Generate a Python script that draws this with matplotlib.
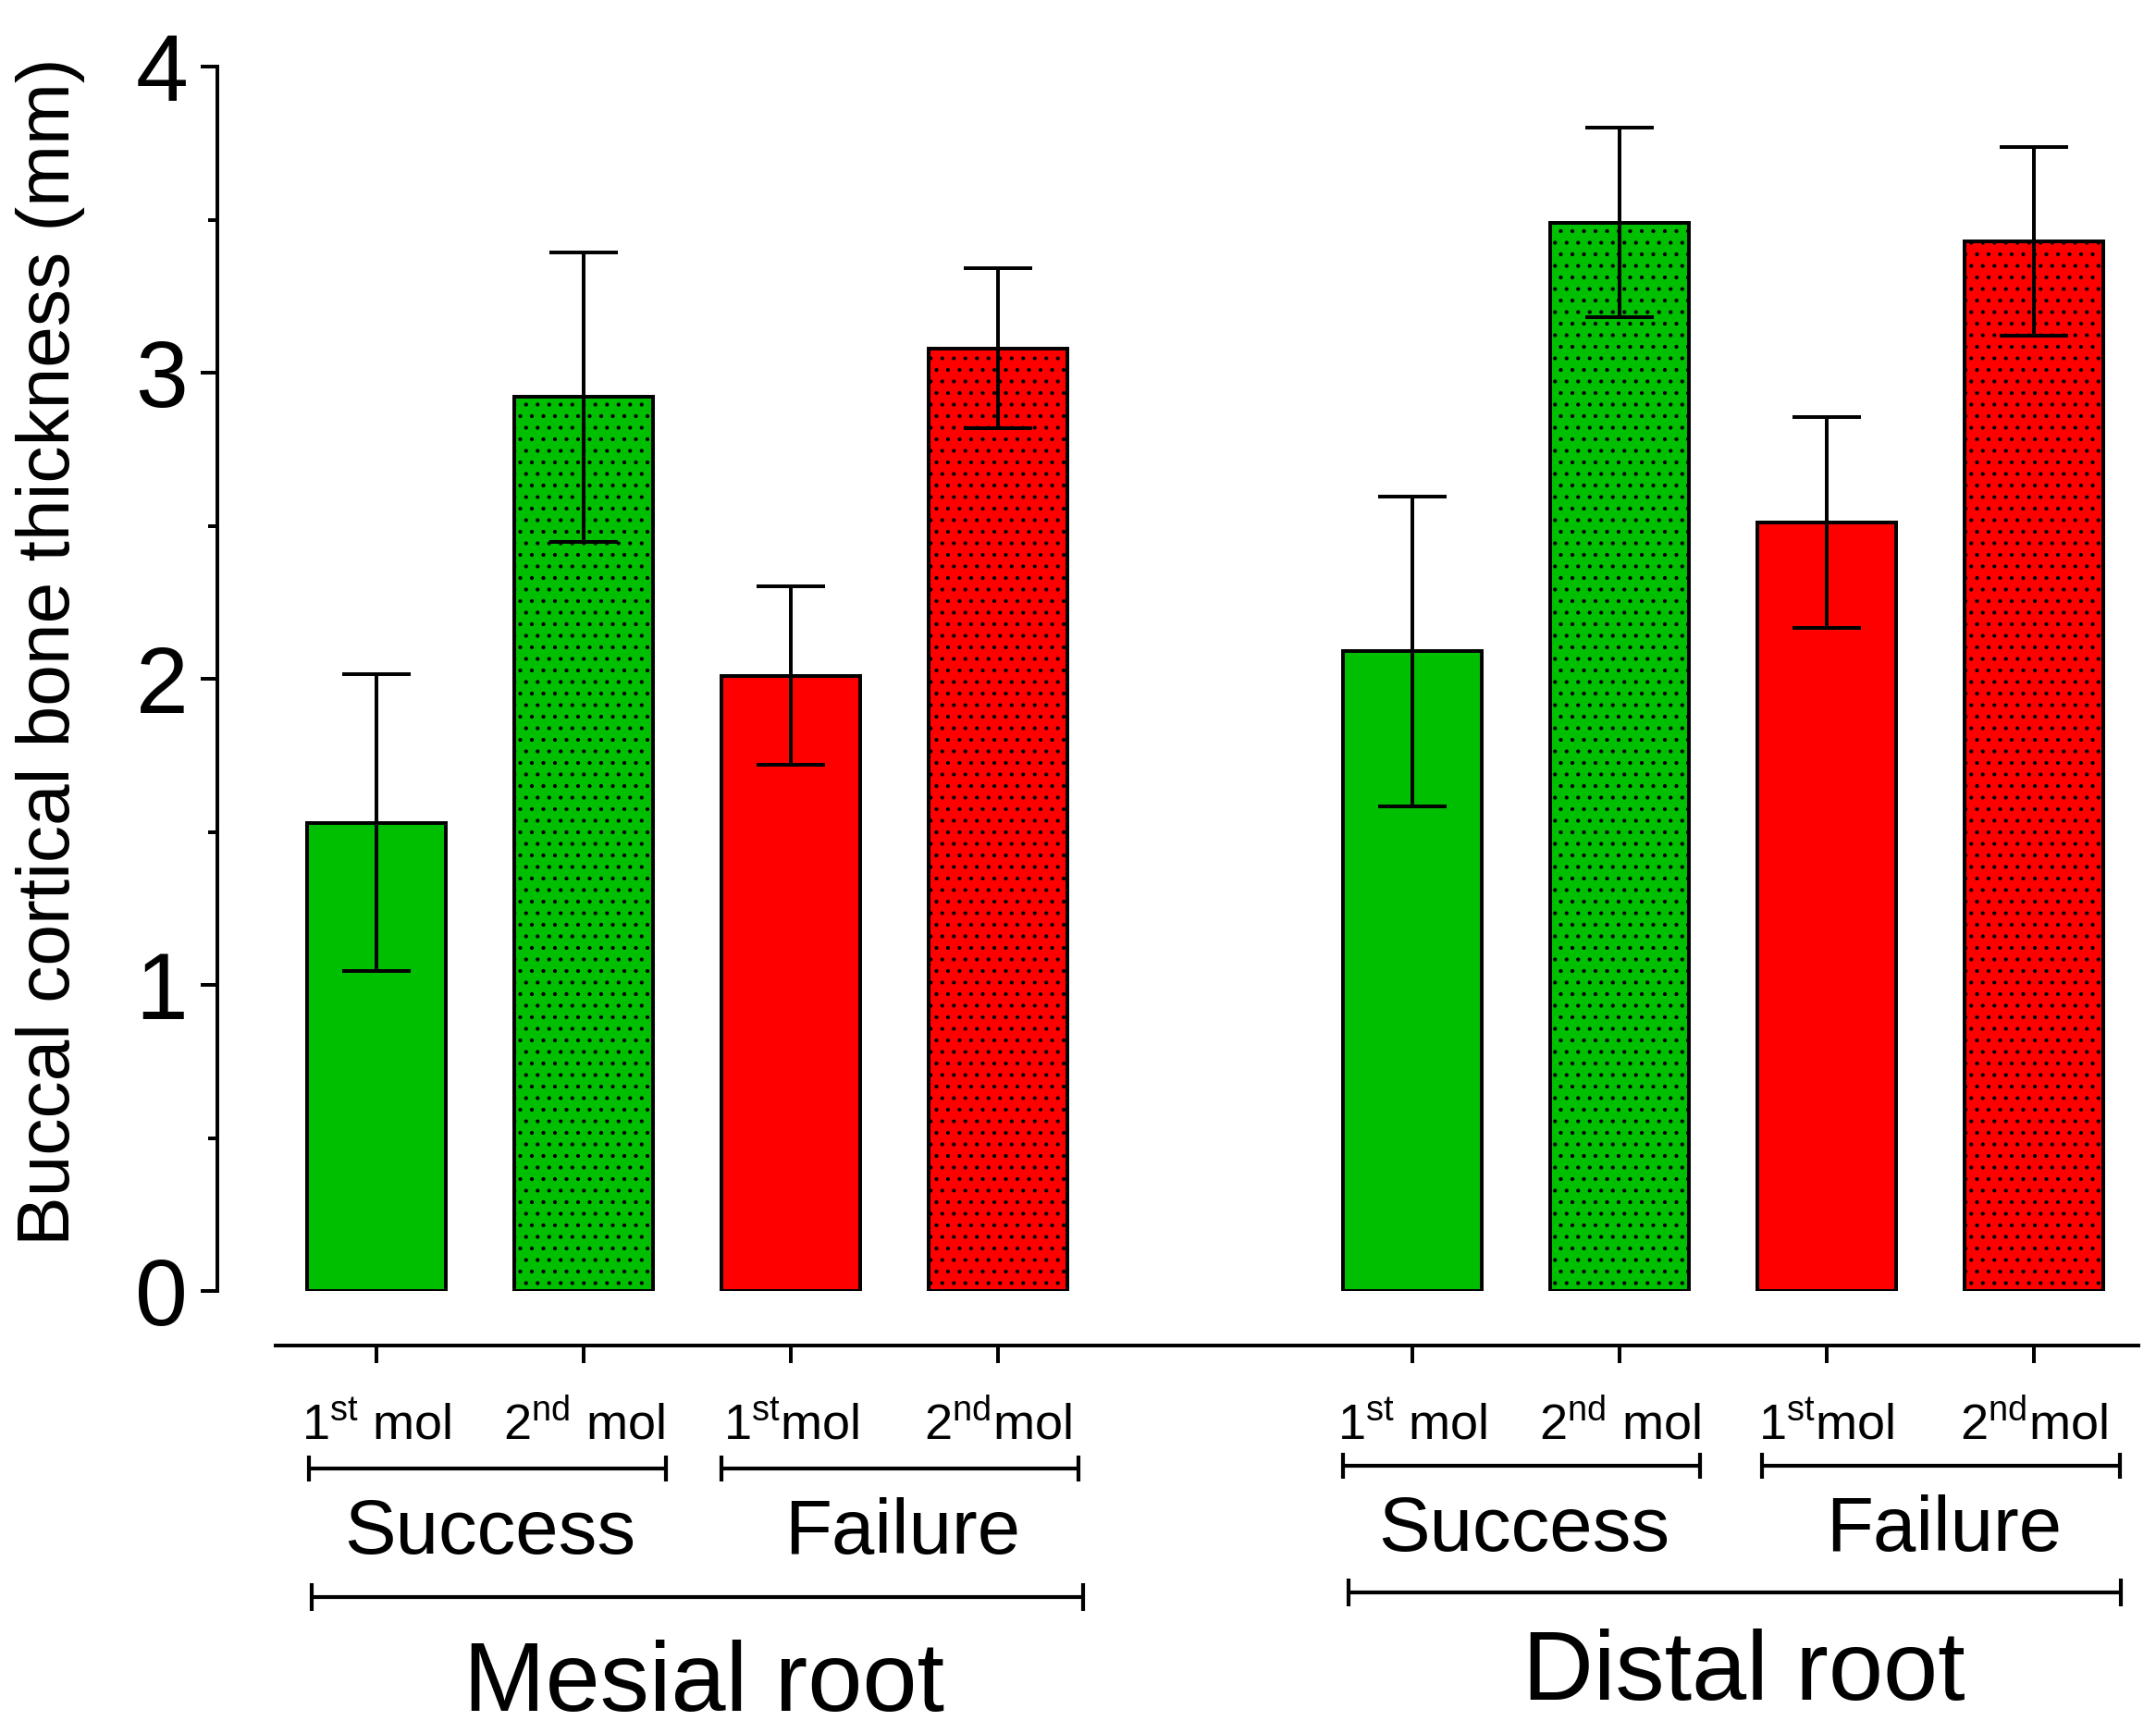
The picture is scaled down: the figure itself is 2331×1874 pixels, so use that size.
import matplotlib
matplotlib.use("Agg")
import matplotlib.pyplot as plt
from matplotlib import transforms

plt.rcParams['font.family'] = ['Liberation Sans', 'DejaVu Sans']
plt.rcParams['mathtext.fontset'] = 'custom'
plt.rcParams['mathtext.rm'] = 'Liberation Sans'
plt.rcParams['mathtext.it'] = 'Liberation Sans:italic'
plt.rcParams['mathtext.bf'] = 'Liberation Sans:bold'
plt.rcParams['hatch.linewidth'] = 0.8
plt.rcParams['hatch.color'] = 'black'

# ---- data ----
positions = [0, 1, 2, 3, 5, 6, 7, 8]
means = [1.53, 2.92, 2.01, 3.08, 2.09, 3.49, 2.51, 3.43]
errors = [0.485, 0.472, 0.292, 0.260, 0.506, 0.310, 0.345, 0.308]
colors = ['#00BE00', '#00BE00', '#FF0000', '#FF0000',
          '#00BE00', '#00BE00', '#FF0000', '#FF0000']
hatches = ['', '..', '', '..', '', '..', '', '..']
mol_labels = [r'$\mathregular{1^{st}}$ mol', r'$\mathregular{2^{nd}}$ mol',
              r'$\mathregular{1^{st}}$mol', r'$\mathregular{2^{nd}}$mol',
              r'$\mathregular{1^{st}}$ mol', r'$\mathregular{2^{nd}}$ mol',
              r'$\mathregular{1^{st}}$mol', r'$\mathregular{2^{nd}}$mol']
group_labels = ['Success', 'Failure', 'Success', 'Failure']
group_x = [0.545, 2.54, 5.54, 7.566]
group_spans = [(-0.326, 1.398), (1.666, 3.39), (4.667, 6.39), (6.69, 8.415)]
root_labels = ['Mesial root', 'Distal root']
root_x = [1.577, 6.60]
root_spans = [(-0.313, 3.41), (4.694, 8.42)]
yticks = [0, 1, 2, 3, 4]
ylabel = 'Buccal cortical bone thickness (mm)'

W, H, DPI = 2331, 1874, 150
fig = plt.figure(figsize=(W / DPI, H / DPI), dpi=DPI)
ax = fig.add_axes([235 / W, 1 - 1396 / H, (2312 - 235) / W, (1396 - 72) / H])

lw = 1.9
ax.bar(positions, means, width=0.67, color=colors, edgecolor='black',
       linewidth=lw, hatch=hatches, zorder=2)
ax.errorbar(positions, means, yerr=errors, fmt='none', ecolor='black',
            elinewidth=lw, capsize=17.8, capthick=lw, zorder=3)

ax.set_xlim(-0.770, 8.506)
ax.set_ylim(0, 4)
ax.spines['top'].set_visible(False)
ax.spines['right'].set_visible(False)
ax.spines['left'].set_linewidth(lw)
ax.spines['bottom'].set_linewidth(lw)
ax.spines['bottom'].set_position(('outward', 28.3))
ax.spines['bottom'].set_bounds(-0.49, 8.506)

ax.set_yticks(yticks)
ax.set_yticklabels([str(v) for v in yticks])
ax.set_yticks([0.5, 1.5, 2.5, 3.5], minor=True)
ax.tick_params(axis='y', which='major', direction='out', length=8.6, width=lw,
               labelsize=49, pad=6.7)
ax.tick_params(axis='y', which='minor', direction='out', length=4.8, width=lw)
ax.set_xticks(positions)
ax.set_xticklabels([''] * len(positions))
ax.tick_params(axis='x', which='major', direction='out', length=9.1, width=lw)

trans = transforms.blended_transform_factory(ax.transData, fig.transFigure)

def fy(Y):
    return 1 - Y / H

for p, lab in zip(positions, mol_labels):
    ax.text(p, fy(1557), lab, transform=trans, ha='center', va='baseline',
            fontsize=26, clip_on=False)

def bracket(x0, x1, Y, half=15):
    ax.plot([x0, x1], [fy(Y), fy(Y)], color='black', lw=2.0,
            transform=trans, clip_on=False, solid_capstyle='butt')
    for xx in (x0, x1):
        ax.plot([xx, xx], [fy(Y - half), fy(Y + half)], color='black', lw=2.0,
                transform=trans, clip_on=False, solid_capstyle='butt')

group_y = [1588, 1588, 1585, 1585]
group_text_y = [1680, 1680, 1677, 1677]
for (x0, x1), gy in zip(group_spans, group_y):
    bracket(x0, x1, gy, 14)
for gx, gty, lab in zip(group_x, group_text_y, group_labels):
    ax.text(gx, fy(gty), lab, transform=trans, ha='center', va='baseline',
            fontsize=40, clip_on=False)

root_y = [1727, 1722]
root_text_y = [1850, 1838]
for (x0, x1), ry in zip(root_spans, root_y):
    bracket(x0, x1, ry, 15)
for rx, rty, lab in zip(root_x, root_text_y, root_labels):
    ax.text(rx, fy(rty), lab, transform=trans, ha='center', va='baseline',
            fontsize=51, clip_on=False)

fig.text(55 / W, fy(705), ylabel, rotation=90, ha='center', va='center',
         fontsize=38.5)

fig.savefig('out.png', dpi=DPI)
